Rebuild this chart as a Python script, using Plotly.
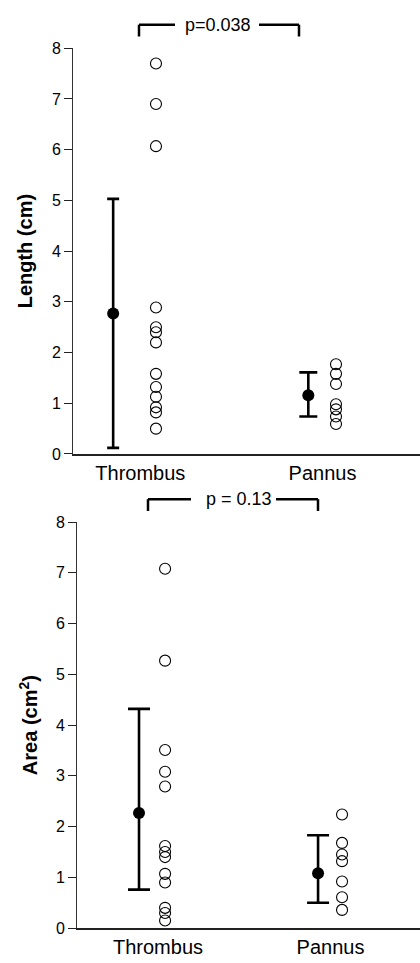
import plotly.graph_objects as go

# ---------------- data ----------------
categories = ["Thrombus", "Pannus"]

length_thrombus = [7.7, 6.9, 6.07, 2.89, 2.5, 2.4, 2.2, 1.58, 1.32, 1.13, 0.92, 0.82, 0.5]
length_pannus = [1.77, 1.58, 1.38, 0.98, 0.88, 0.74, 0.59]
length_mean = [2.77, 1.16]
length_upper = [5.03, 1.61]
length_lower = [0.12, 0.74]
length_p = "p=0.038"

area_thrombus = [7.08, 5.27, 3.51, 3.08, 2.79, 1.62, 1.5, 1.4, 1.07, 0.9, 0.4, 0.3, 0.15]
area_pannus = [2.24, 1.68, 1.45, 1.32, 0.92, 0.61, 0.36]
area_mean = [2.27, 1.08]
area_upper = [4.32, 1.83]
area_lower = [0.76, 0.50]
area_p = "p = 0.13"

y_ticks = [0, 1, 2, 3, 4, 5, 6, 7, 8]

# ---------------- layout helpers ----------------
W, H = 420, 963
FONT = "Arial, Liberation Sans, Helvetica, sans-serif"


def px(x):
    return x / W


def py(y):
    return 1 - y / H


fig = go.Figure()

panels = [
    dict(xa="x", ya="y", pts=[length_thrombus, length_pannus], mean=length_mean,
         up=length_upper, lo=length_lower,
         mean_off=[-0.149, -0.078], pt_off=[0.086, 0.074], capw=[6, 9]),
    dict(xa="x2", ya="y2", pts=[area_thrombus, area_pannus], mean=area_mean,
         up=area_upper, lo=area_lower,
         mean_off=[-0.110, -0.072], pt_off=[0.041, 0.067], capw=[11, 11]),
]

for p in panels:
    for i, cat in enumerate(categories):
        vals = p["pts"][i]
        fig.add_trace(go.Scatter(
            x=[i + 1 + p["pt_off"][i]] * len(vals), y=vals,
            mode="markers", xaxis=p["xa"], yaxis=p["ya"],
            marker=dict(symbol="circle-open", size=11, color="black",
                        line=dict(width=1.1, color="black")),
            showlegend=False, cliponaxis=False, name=cat))
        m = p["mean"][i]
        fig.add_trace(go.Scatter(
            x=[i + 1 + p["mean_off"][i]], y=[m],
            mode="markers", xaxis=p["xa"], yaxis=p["ya"],
            marker=dict(symbol="circle", size=12, color="black"),
            error_y=dict(type="data", symmetric=False,
                         array=[p["up"][i] - m], arrayminus=[m - p["lo"][i]],
                         color="black", thickness=2.6, width=p["capw"][i]),
            showlegend=False, cliponaxis=False, name=cat + " mean"))

yaxis_common = dict(range=[0, 8], tickvals=y_ticks, ticks="outside", ticklen=8,
                    tickwidth=1, tickcolor="#222", showline=True, linecolor="#333",
                    linewidth=1, showgrid=False, zeroline=False,
                    tickfont=dict(family=FONT, size=16, color="black"),
                    title_font=dict(family=FONT, size=20, color="black"))
xaxis_common = dict(tickvals=[1, 2], ticktext=categories, ticks="",
                    showline=True, linecolor="#222", linewidth=1.5,
                    showgrid=False, zeroline=False,
                    tickfont=dict(family=FONT, size=20, color="black"))

fig.update_layout(
    width=W, height=H, margin=dict(l=0, r=0, t=0, b=0),
    paper_bgcolor="white", plot_bgcolor="white",
    xaxis=dict(xaxis_common, domain=[px(73), 1], range=[0.6306, 2.535], anchor="y"),
    yaxis=dict(yaxis_common, domain=[py(454), py(41)], anchor="x",
               title=dict(text="<b>Length (cm)</b>", standoff=13)),
    xaxis2=dict(xaxis_common, domain=[px(77), 1], range=[0.5304, 2.519], anchor="y2"),
    yaxis2=dict(yaxis_common, domain=[py(936.7), py(523.3)], anchor="x2",
                title=dict(text="<b>Area (cm<sup>2</sup>)</b>", standoff=12)),
)

# significance brackets
brackets = [
    dict(l=139, r=299, y=17, tip=29, gl=175, gr=259, tx=218, text=length_p),
    dict(l=148, r=318, y=500, tip=512, gl=191, gr=276, tx=239, text=area_p),
]
for b in brackets:
    line = dict(color="black", width=2.5)
    for (x0, y0, x1, y1) in [(b["l"], b["tip"], b["l"], b["y"]), (b["l"], b["y"], b["gl"], b["y"]),
                             (b["gr"], b["y"], b["r"], b["y"]), (b["r"], b["y"], b["r"], b["tip"])]:
        fig.add_shape(type="line", xref="paper", yref="paper",
                      x0=px(x0), y0=py(y0), x1=px(x1), y1=py(y1), line=line)
    fig.add_annotation(xref="paper", yref="paper", x=px(b["tx"]), y=py(b["y"]),
                       text=b["text"], showarrow=False, xanchor="center", yanchor="middle",
                       font=dict(family=FONT, size=18, color="black"))

fig.write_html("out.html")
